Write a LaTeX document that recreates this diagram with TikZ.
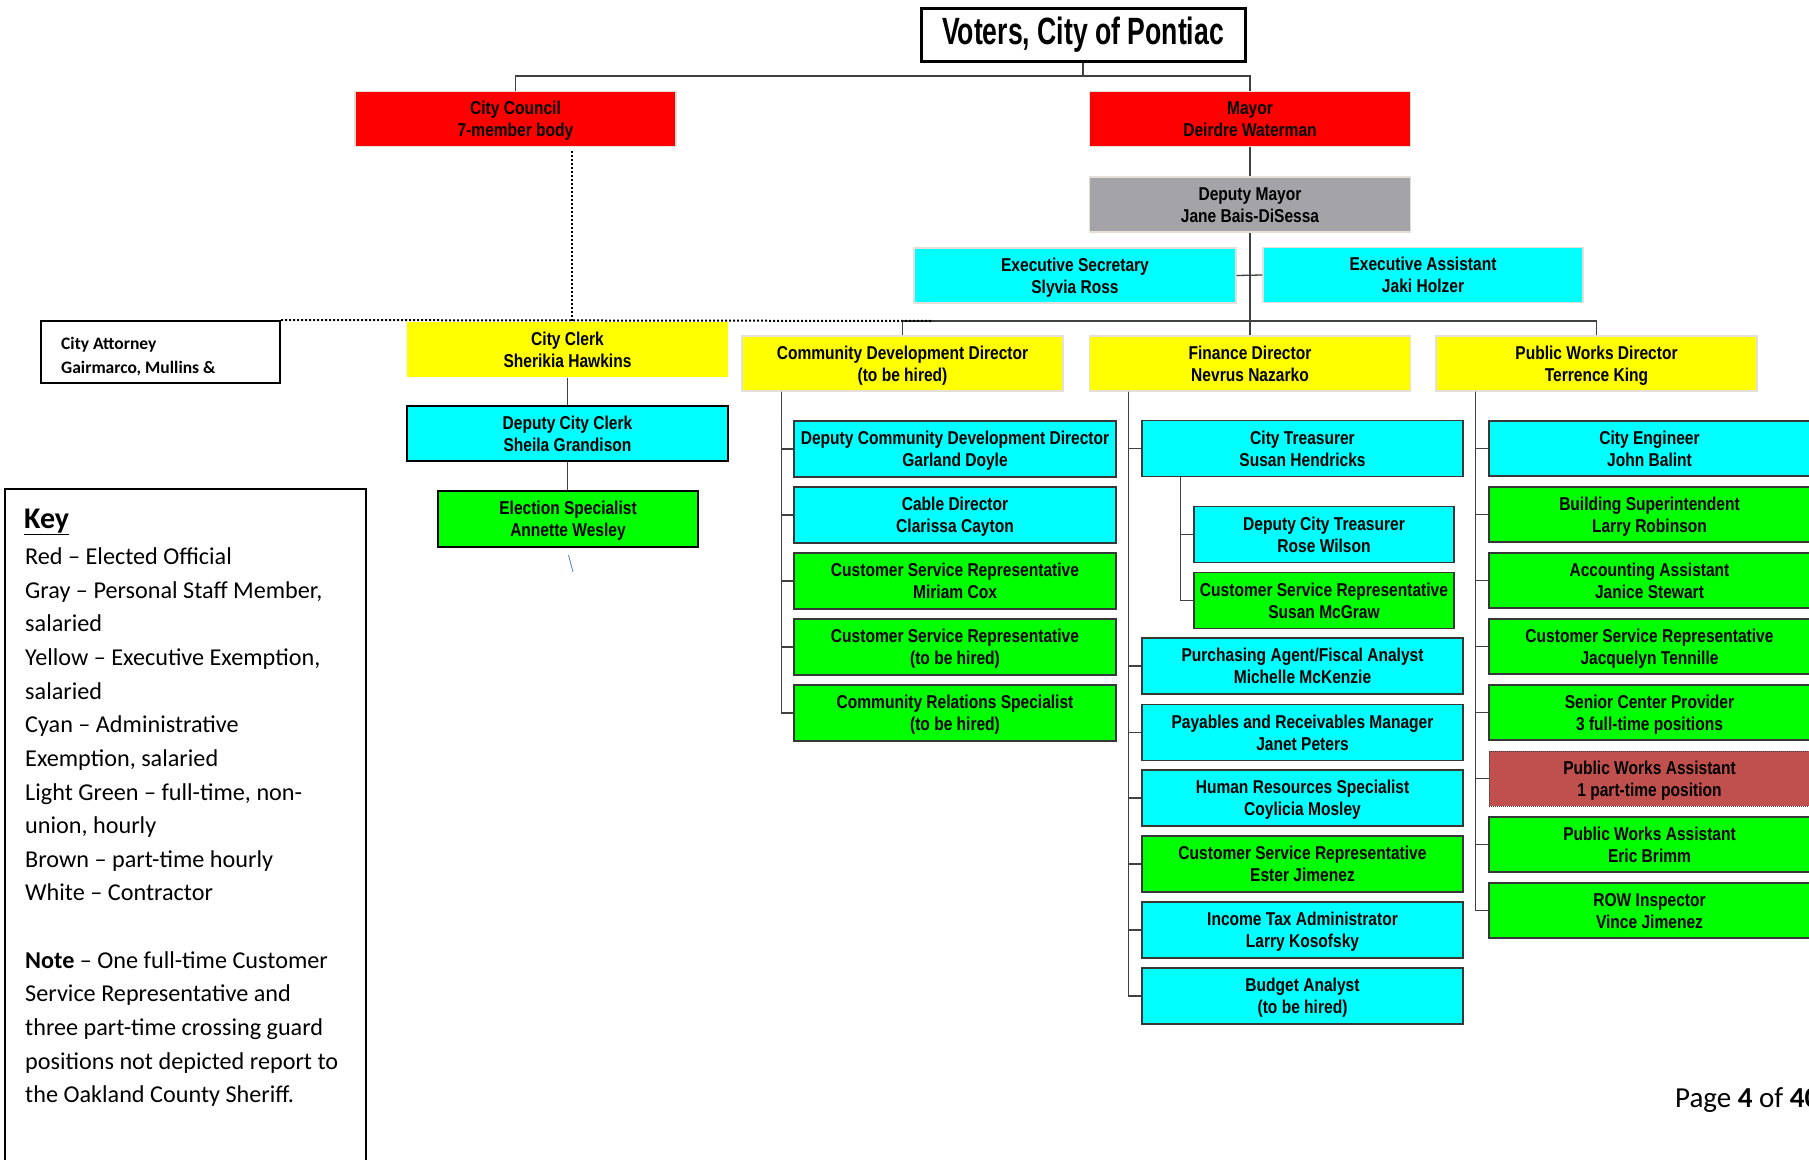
\documentclass[tikz,border=0pt]{standalone}
\usepackage{fontspec}
\setmainfont{Carlito}
\newfontfamily\boxfont[FakeStretch=0.836]{Liberation Sans}
\newfontfamily\titlefont[FakeStretch=0.70]{Liberation Sans}
\definecolor{cRed}{RGB}{255,0,0}
\definecolor{cGray}{RGB}{163,163,168}
\definecolor{cYellow}{RGB}{255,255,0}
\definecolor{cCyan}{RGB}{0,255,255}
\definecolor{cGreen}{RGB}{0,255,0}
\definecolor{cBrown}{RGB}{192,80,77}
\definecolor{cLight}{RGB}{228,224,216}
\definecolor{cDark}{RGB}{55,55,55}
\definecolor{cLine}{RGB}{64,64,64}
\definecolor{cStray}{RGB}{79,129,189}
\newcommand\twoln[2]{\rule{0pt}{19pt}#1\\#2\rule[-6pt]{0pt}{6pt}}
\begin{document}
\begin{tikzpicture}[x=1pt,y=-1pt,
  box/.style={rectangle, inner sep=0pt, align=center, text=black,
    font=\boxfont\bfseries\fontsize{18.6}{22}\selectfont},
  topbox/.style={box, draw=cLight, line width=1.2pt, minimum width=321pt, minimum height=55pt},
  subbox/.style={box, draw=cDark, line width=1.4pt, minimum height=56pt},
  cddkid/.style={subbox, minimum width=322pt},
  finkid/.style={subbox, minimum width=321pt},
  trekid/.style={subbox, minimum width=260pt},
  pwkid/.style={subbox, minimum width=321pt, minimum height=55pt},
  conn/.style={draw=cLine, line width=1.3pt},
  tconn/.style={draw=cLine, line width=1.1pt},
  dotline/.style={draw=black, line width=2pt, dash pattern=on 2pt off 2pt},
  keytxt/.style={anchor=base west, inner sep=0pt, font=\fontsize{24.2}{28}\selectfont},
  atttxt/.style={anchor=base west, inner sep=0pt, font=\bfseries\fontsize{17.5}{20}\selectfont}
]
\useasboundingbox (0,0) rectangle (1809,1159);

% title
\node[rectangle, draw=black, line width=3pt, minimum width=324pt, minimum height=53pt,
  inner sep=0pt, font=\titlefont\bfseries\fontsize{38}{40}\selectfont] (title) at (1083,34.5) {Voters, City of Pontiac};

% top level
\node[topbox, fill=cRed] (council) at (515.5,119) {\twoln{City Council}{7-member body}};
\node[topbox, fill=cRed] (mayor) at (1250,119) {\twoln{Mayor}{Deirdre Waterman}};
\node[topbox, fill=cGray] (dmayor) at (1250,204.5) {\twoln{Deputy Mayor}{Jane Bais-DiSessa}};
\node[topbox, fill=cCyan, minimum width=322pt] (esec) at (1075,275.5) {\twoln{Executive Secretary}{Slyvia Ross}};
\node[topbox, fill=cCyan, minimum width=320pt] (easst) at (1423,275) {\twoln{Executive Assistant}{Jaki Holzer}};

% attorney
\node[rectangle, draw=black, line width=2pt, minimum width=239pt, minimum height=62pt, inner sep=0pt] (att) at (160.5,352) {};
\node[atttxt] (att1) at (61,349) {City Attorney};
\node[atttxt] (att2) at (61,373) {Gairmarco, Mullins \&};

% directors
\node[topbox, fill=cYellow, draw=none] (clerk) at (567.5,349.5) {\twoln{City Clerk}{Sherikia Hawkins}};
\node[topbox, fill=cYellow] (cdd) at (902.5,363.5) {\twoln{Community Development Director}{(to be hired)}};
\node[topbox, fill=cYellow] (fin) at (1250,363.5) {\twoln{Finance Director}{Nevrus Nazarko}};
\node[topbox, fill=cYellow] (pw) at (1596.5,363.5) {\twoln{Public Works Director}{Terrence King}};

% clerk branch
\node[subbox, fill=cCyan, draw=black, minimum width=321pt, minimum height=55pt] (dclerk) at (567.5,433.5) {\twoln{Deputy City Clerk}{Sheila Grandison}};
\node[subbox, fill=cGreen, draw=black, minimum width=260pt] (elect) at (568,519) {\twoln{Election Specialist}{Annette Wesley}};

% CDD branch
\node[cddkid, fill=cCyan] (c1) at (955,449) {\twoln{Deputy Community Development Director}{Garland Doyle}};
\node[cddkid, fill=cCyan] (c2) at (955,515) {\twoln{Cable Director}{Clarissa Cayton}};
\node[cddkid, fill=cGreen] (c3) at (955,581) {\twoln{Customer Service Representative}{Miriam Cox}};
\node[cddkid, fill=cGreen] (c4) at (955,647) {\twoln{Customer Service Representative}{(to be hired)}};
\node[cddkid, fill=cGreen] (c5) at (955,713) {\twoln{Community Relations Specialist}{(to be hired)}};

% finance branch
\node[finkid, fill=cCyan] (f1) at (1302.5,448.5) {\twoln{City Treasurer}{Susan Hendricks}};
\node[trekid, fill=cCyan] (t1) at (1324,534.5) {\twoln{Deputy City Treasurer}{Rose Wilson}};
\node[trekid, fill=cGreen] (t2) at (1324,600.5) {\twoln{Customer Service Representative}{Susan McGraw}};
\node[finkid, fill=cCyan] (f2) at (1302.5,666) {\twoln{Purchasing Agent/Fiscal Analyst}{Michelle McKenzie}};
\node[finkid, fill=cCyan] (f3) at (1302.5,732.5) {\twoln{Payables and Receivables Manager}{Janet Peters}};
\node[finkid, fill=cCyan] (f4) at (1302.5,798) {\twoln{Human Resources Specialist}{Coylicia Mosley}};
\node[finkid, fill=cGreen] (f5) at (1302.5,864) {\twoln{Customer Service Representative}{Ester Jimenez}};
\node[finkid, fill=cCyan] (f6) at (1302.5,930) {\twoln{Income Tax Administrator}{Larry Kosofsky}};
\node[finkid, fill=cCyan] (f7) at (1302.5,996) {\twoln{Budget Analyst}{(to be hired)}};

% public works branch
\node[pwkid, fill=cCyan] (p1) at (1649.5,448.5) {\twoln{City Engineer}{John Balint}};
\node[pwkid, fill=cGreen] (p2) at (1649.5,514.5) {\twoln{Building Superintendent}{Larry Robinson}};
\node[pwkid, fill=cGreen] (p3) at (1649.5,580.5) {\twoln{Accounting Assistant}{Janice Stewart}};
\node[pwkid, fill=cGreen] (p4) at (1649.5,646.5) {\twoln{Customer Service Representative}{Jacquelyn Tennille}};
\node[pwkid, fill=cGreen] (p5) at (1649.5,712.5) {\twoln{Senior Center Provider}{3 full-time positions}};
\node[pwkid, fill=cBrown, draw=cLine, line width=1pt, dash pattern=on 1pt off 1pt] (p6) at (1649.5,778.5) {\twoln{Public Works Assistant}{1 part-time position}};
\node[pwkid, fill=cGreen] (p7) at (1649.5,844.5) {\twoln{Public Works Assistant}{Eric Brimm}};
\node[pwkid, fill=cGreen] (p8) at (1649.5,910.5) {\twoln{ROW Inspector}{Vince Jimenez}};

% connectors top
\coordinate (tj) at (1083,76);
\draw[tconn] (title.south) -- (tj);
\draw[tconn] (council.north) |- (tj) -| (mayor.north);
\draw[conn] (mayor.south) -- (dmayor.north);
\draw[conn] (dmayor.south) -- (fin.north);
\draw[conn] (esec.east) -- (easst.west);
\coordinate (hj) at (1250,321);
\draw[conn] (cdd.north) |- (hj) -| (pw.north);

% dotted
\coordinate (dtop) at (572,151);
\coordinate (dend) at (933,321);
\draw[dotline] (att.north east) -- (dend);
\draw[dotline] (dtop) -- (dtop |- dend);

% clerk chain
\draw[conn] (clerk.south) -- (dclerk.north);
\draw[conn] (dclerk.south) -- (dclerk.south |- elect.north);

% brackets
\foreach \c in {c1,c2,c3,c4,c5} \draw[conn] ([xshift=40pt]cdd.south west) |- (\c.west);
\foreach \c in {f1,f2,f3,f4,f5,f6,f7} \draw[conn] ([xshift=39.5pt]fin.south west) |- (\c.west);
\foreach \c in {t1,t2} \draw[conn] ([xshift=39pt]f1.south west) |- (\c.west);
\foreach \c in {p1,p2,p3,p4,p5,p6,p7,p8} \draw[conn] ([xshift=40pt]pw.south west) |- (\c.west);

% stray mark
\draw[cStray, line width=0.8pt] (568.5,555) -- (573,572);

% key
\draw[line width=2.5pt] (5,489) rectangle (366,1170);
\node[anchor=base west, inner sep=0pt, font=\bfseries\fontsize{30}{34}\selectfont] (kh) at (24,528) {\underline{Key}};
\node[keytxt] (k1) at (25,564.5) {Red – Elected Official};
\node[keytxt] (k2) at (25,598) {Gray – Personal Staff Member,};
\node[keytxt] (k3) at (25,631.5) {salaried};
\node[keytxt] (k4) at (25,665) {Yellow – Executive Exemption,};
\node[keytxt] (k5) at (25,699) {salaried};
\node[keytxt] (k6) at (25,732.5) {Cyan – Administrative};
\node[keytxt] (k7) at (25,766) {Exemption, salaried};
\node[keytxt] (k8) at (25,800) {Light Green – full-time, non-};
\node[keytxt] (k9) at (25,833.5) {union, hourly};
\node[keytxt] (k10) at (25,867) {Brown – part-time hourly};
\node[keytxt] (k11) at (25,900.5) {White – Contractor};
\node[keytxt] (k12) at (25,968) {\textbf{Note} – One full-time Customer};
\node[keytxt] (k13) at (25,1001.5) {Service Representative and};
\node[keytxt] (k14) at (25,1035) {three part-time crossing guard};
\node[keytxt] (k15) at (25,1069) {positions not depicted report to};
\node[keytxt] (k16) at (25,1102.5) {the Oakland County Sheriff.};

% page
\node[anchor=base west, inner sep=0pt, font=\fontsize{29}{32}\selectfont] (pg) at (1675,1107) {Page \textbf{4} of \textbf{40}};
\end{tikzpicture}
\end{document}
